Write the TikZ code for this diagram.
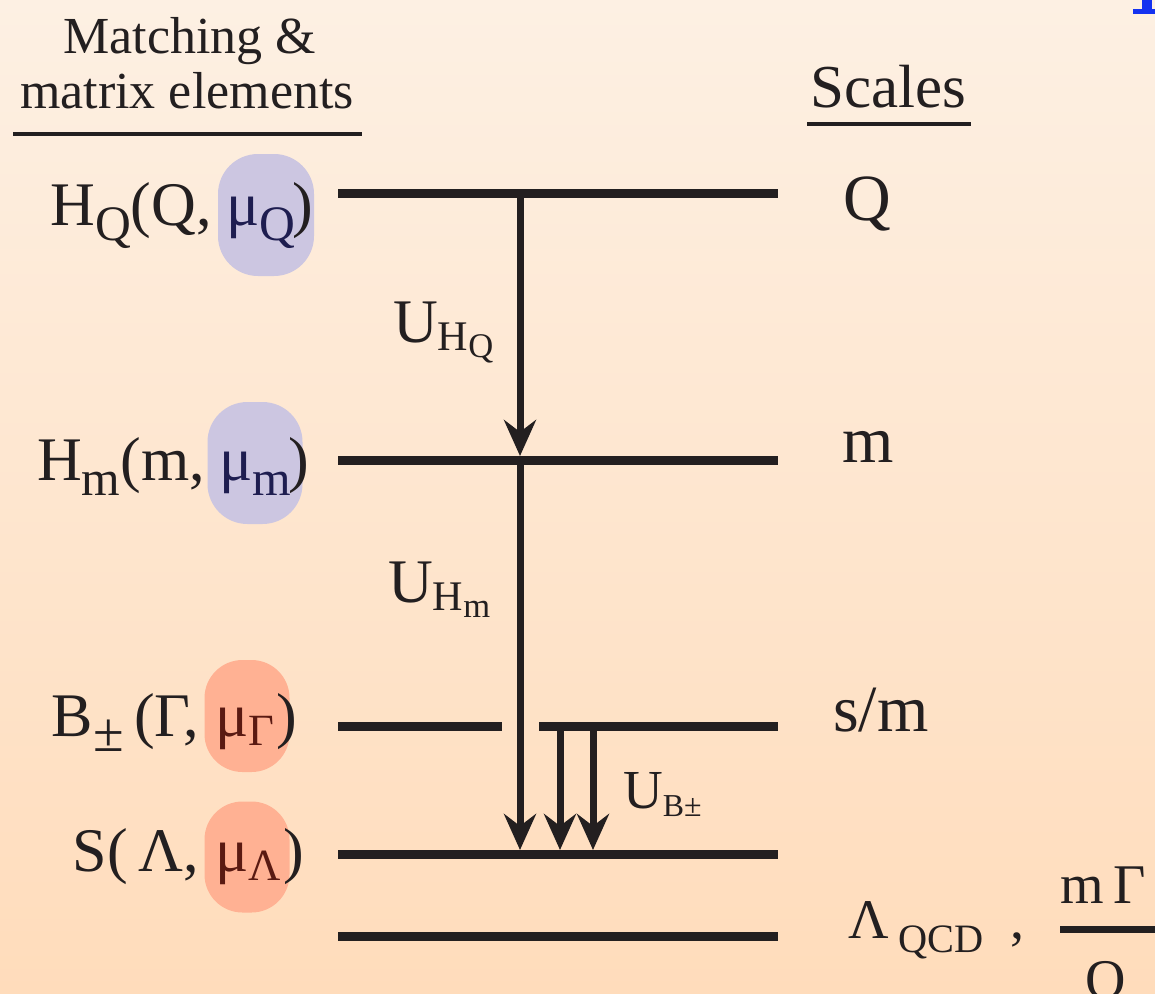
\documentclass[tikz,border=0pt]{standalone}
\usepackage{fontspec}
\setmainfont{Liberation Serif}
\usetikzlibrary{arrows.meta,positioning}
\definecolor{InkDark}{HTML}{231F20}
\definecolor{BgTop}{HTML}{FDF0E3}
\definecolor{BgBottom}{HTML}{FFDCBB}
\definecolor{MuLav}{HTML}{CCC6E1}
\definecolor{MuLavInk}{HTML}{1E1D50}
\definecolor{MuSalmon}{HTML}{FFB193}
\definecolor{MuSalmonInk}{HTML}{5A1A12}
\definecolor{TitleBlue}{HTML}{1432F0}
\newcommand{\sbx}[3]{\raisebox{#1}{\scalebox{#2}{#3}}}
\tikzset{>={Stealth[length=36pt,width=32pt,inset=12pt]},every node/.style={text=InkDark,inner sep=0pt},
 hdr/.style={font=\fontsize{52}{56}\selectfont},lbl/.style={font=\fontsize{62}{66}\selectfont},
 scl/.style={font=\fontsize{66}{70}\selectfont},ulbl/.style={font=\fontsize{62}{66}\selectfont},
 level/.style={draw=InkDark,line width=9pt},flow/.style={draw=InkDark,line width=7pt,->},
 lavbox/.style={fill=MuLav,rounded corners=40pt},salbox/.style={fill=MuSalmon,rounded corners=38pt}}

\begin{document}
\begin{tikzpicture}[x=1pt,y=-1pt]
\useasboundingbox (0,0) rectangle (1155,993);
\clip (0,0) rectangle (1155,993);
\shade[top color=BgTop,bottom color=BgBottom] (0,0) rectangle (1155,993);
\fill[TitleBlue] (1133,9) rectangle (1160,14);
\fill[TitleBlue] (1142,-2) rectangle (1152,10);
% headings
\node[hdr,anchor=base] (hdrA) at (190,53) {Matching \&};
\node[hdr,anchor=base] (hdrB) at (187,108) {matrix elements};
\draw[InkDark,line width=4.5pt] (13,134) -- (362,134);
\node[hdr,font=\fontsize{61}{64}\selectfont,anchor=base] (scales) at (888,107) {Scales};
\draw[InkDark,line width=4pt] (807,124) -- (971,124);
% scale levels
\foreach \y in {193,460,854,936} \draw[level] (338,\y) -- (778,\y);
\draw[level] (338,726) -- (502,726);
\draw[level] (539,726) -- (778,726);
\coordinate (qTop) at (520,193);
\coordinate (mEnd) at (520,456);
\coordinate (mTop) at (520,460);
\coordinate (sEnd) at (520,850);
\coordinate (bTopA) at (560,726);
\coordinate (bEndA) at (560,850);
\coordinate (bTopB) at (593,726);
\coordinate (bEndB) at (593,850);
\draw[flow] (qTop) -- (mEnd);
\draw[flow] (mTop) -- (sEnd);
\draw[flow] (bTopA) -- (bEndA);
\draw[flow] (bTopB) -- (bEndB);
\node[ulbl,anchor=base west] (uHQ) at (393,342) {U\sbx{-0.13em}{0.68}{H\sbx{-0.18em}{0.82}{Q}}};
\node[ulbl,anchor=base west] (uHm) at (388,602) {U\sbx{-0.13em}{0.68}{H\sbx{-0.18em}{0.82}{m}}};
\node[ulbl,font=\fontsize{55}{60}\selectfont,anchor=base west] (uB) at (623,808) {U\sbx{-0.15em}{0.58}{B±}};
% matching coefficients
\node[lavbox,minimum width=96pt,minimum height=122pt] (boxQ) at (266,215) {};
\node[lbl,anchor=base west,text=MuLavInk] (muQ) at (226,225) {μ\sbx{-0.25em}{0.8}{Q}};
\node[lbl,anchor=base east] (hQ) at ([xshift=-14pt]muQ.base west) {H\sbx{-0.25em}{0.8}{Q}(Q,};
\node[lbl,anchor=base west] (rpQ) at ([xshift=-3pt]muQ.base east) {)};
\node[lavbox,minimum width=95pt,minimum height=122pt] (boxM) at (255,463) {};
\node[lbl,anchor=base west,text=MuLavInk] (muM) at (219,480) {μ\sbx{-0.25em}{0.8}{m}};
\node[lbl,anchor=base east] (hM) at ([xshift=-14pt]muM.base west) {H\sbx{-0.25em}{0.8}{m}(m,};
\node[lbl,anchor=base west] (rpM) at ([xshift=-3pt]muM.base east) {)};
\node[salbox,minimum width=85pt,minimum height=112pt] (boxB) at (247,716) {};
\node[lbl,anchor=base west,text=MuSalmonInk] (muB) at (215,736) {μ\sbx{-0.15em}{0.72}{Γ}};
\node[lbl,anchor=base east] (hB) at ([xshift=-16pt]muB.base west) {B\sbx{-0.25em}{0.9}{±}\,(Γ,};
\node[lbl,anchor=base west] (rpB) at ([xshift=2pt]muB.base east) {)};
\node[salbox,minimum width=85pt,minimum height=111pt] (boxS) at (247,857) {};
\node[lbl,anchor=base west,text=MuSalmonInk] (muS) at (215,871) {μ\sbx{-0.15em}{0.72}{Λ}};
\node[lbl,anchor=base east] (hS) at ([xshift=-16pt]muS.base west) {S(\,Λ,};
\node[lbl,anchor=base west] (rpS) at ([xshift=2pt]muS.base east) {)};
% scales
\node[scl,anchor=base west] (sQ) at (843,220) {Q};
\node[scl,anchor=base west] (sM) at (842,462) {m};
\node[scl,anchor=base west] (sSm) at (833,731) {s/m};
\node[scl,font=\fontsize{56}{60}\selectfont,anchor=base west] (sLam) at (848,938) {Λ\,\sbx{-0.25em}{0.72}{QCD}};
\node[scl,font=\fontsize{56}{60}\selectfont,anchor=base west] (comma) at (1010,938) {,};
\node[scl,font=\fontsize{56}{60}\selectfont,anchor=base west] (fracN) at (1060,903) {m\,Γ};
\node[scl,font=\fontsize{56}{60}\selectfont,anchor=base west] (fracD) at (1085,998) {Q};
\draw[InkDark,line width=7pt] (fracN.south west |- 0,929) -- (1170,929);
\end{tikzpicture}
\end{document}
